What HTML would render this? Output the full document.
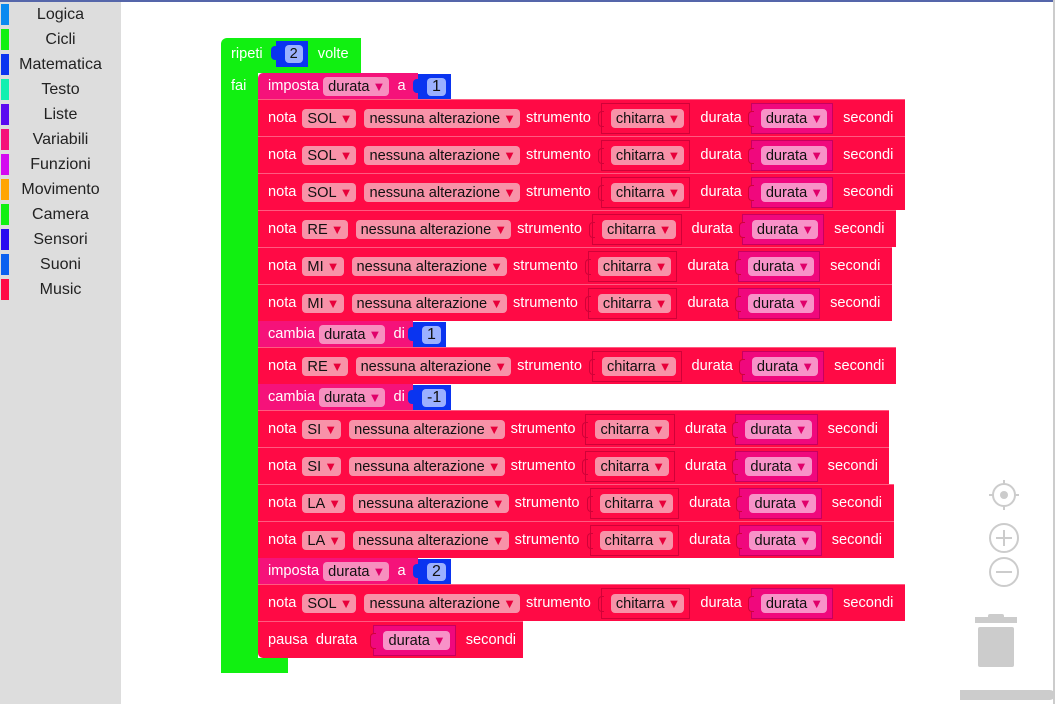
<!DOCTYPE html>
<html><head><meta charset="utf-8"><style>
*{box-sizing:border-box;margin:0;padding:0}
body{width:1055px;height:704px;overflow:hidden;background:#fff;font-family:"Liberation Sans",Arial,sans-serif;position:relative}
#top{position:absolute;left:0;top:0;width:1055px;height:2px;background:#5566aa}
#side{position:absolute;left:0;top:2px;width:121px;height:702px;background:#ddd}
.cat{position:absolute;left:0;width:121px;height:25px;font-size:16px;color:#222;text-align:center;line-height:25px}
.cat i{position:absolute;left:1px;top:2px;width:8px;height:21px}
.blk{position:absolute;display:flex;align-items:center;color:#fff;font-size:14.6px;white-space:nowrap;padding-left:10px}
.red{background:#ff0a45;border-top:1px solid #ff5a80}
.mag{background:#f5127a}
.pill{background:#f892a8;color:#111;border-radius:4px;height:19px;line-height:19px;padding:0 4px 0 5px;display:inline-block}
.mag .pill{background:#f78fbf}
.pill b{color:#e8003a;font-size:13px;font-weight:normal;margin-left:3px}
.mag .pill b{color:#e0006a}
.box{display:inline-flex;align-items:center;height:31px;border:1px solid #d00238;padding:0 5px 0 9px;margin-right:10px;position:relative}
.box.v{background:#f0087d;border-color:#c8005e}
.box.v .pill{background:#f892c8}
.box.v .pill b{color:#e0006a}
.box:before{content:"";position:absolute;left:-4px;top:7px;width:5px;height:14px;border:1px solid #d00238;border-right:none;border-radius:4px 0 0 4px;background:inherit}
.num{display:inline-flex;align-items:center;background:#0a34f0;height:25px;padding:0 5px 0 9px;position:relative;margin-left:8px}
.num:before{content:"";position:absolute;left:-5px;top:5px;width:6px;height:14px;background:#0a34f0;border-radius:4px 0 0 4px}
.num span{background:#9bb0ff;color:#111;border-radius:4px;height:18px;line-height:18px;padding:0 5px}
.sp{margin-right:6px}
.n{margin-right:8px}
.a{margin-right:6px}
.s{margin-right:10px}
.d{margin-right:9px}
</style></head><body>
<div id="top"></div>
<div id="side">
<div class="cat" style="top:0"><i style="background:#0a8af0"></i>Logica</div>
<div class="cat" style="top:25px"><i style="background:#11f011"></i>Cicli</div>
<div class="cat" style="top:50px"><i style="background:#0a34f0"></i>Matematica</div>
<div class="cat" style="top:75px"><i style="background:#11f0b0"></i>Testo</div>
<div class="cat" style="top:100px"><i style="background:#5a0af0"></i>Liste</div>
<div class="cat" style="top:125px"><i style="background:#f5127a"></i>Variabili</div>
<div class="cat" style="top:150px"><i style="background:#d40af0"></i>Funzioni</div>
<div class="cat" style="top:175px"><i style="background:#ffa500"></i>Movimento</div>
<div class="cat" style="top:200px"><i style="background:#11f011"></i>Camera</div>
<div class="cat" style="top:225px"><i style="background:#2a0af0"></i>Sensori</div>
<div class="cat" style="top:250px"><i style="background:#0a60f0"></i>Suoni</div>
<div class="cat" style="top:275px"><i style="background:#ff0a45"></i>Music</div>
</div>

<div style="position:absolute;left:221px;top:38px;width:140px;height:35px;background:#11f011;border-radius:6px 0 0 0"></div>
<div style="position:absolute;left:221px;top:70px;width:37px;height:603px;background:#11f011;border-radius:0 0 0 6px"></div>
<div style="position:absolute;left:221px;top:658px;width:67px;height:15px;background:#11f011"></div>
<div class="blk" style="left:221px;top:40px;height:28px">ripeti<div class="num" style="margin-left:13px;height:26px"><span>2</span></div><span style="margin-left:10px">volte</span></div>
<div class="blk" style="left:221px;top:73px;height:25px">fai</div>

<div class="blk mag" style="left:258px;top:73px;height:26px;width:160px;border-radius:5px 0 0 0">imposta&nbsp;<span class="pill">durata<b>▼</b></span>&nbsp;&nbsp;a</div>
<div class="num" style="position:absolute;left:418px;top:74px;margin:0"><span>1</span></div>

<div class="blk red" style="left:258px;top:99px;height:37px;width:647px"><span class="sp">nota</span><span class="pill n">SOL<b>▼</b></span><span class="pill a">nessuna alterazione<b>▼</b></span><span class="s">strumento</span><span class="box"><span class="pill">chitarra<b>▼</b></span></span><span class="d">durata</span><span class="box v"><span class="pill">durata<b>▼</b></span></span>secondi</div>
<div class="blk red" style="left:258px;top:136px;height:37px;width:647px"><span class="sp">nota</span><span class="pill n">SOL<b>▼</b></span><span class="pill a">nessuna alterazione<b>▼</b></span><span class="s">strumento</span><span class="box"><span class="pill">chitarra<b>▼</b></span></span><span class="d">durata</span><span class="box v"><span class="pill">durata<b>▼</b></span></span>secondi</div>
<div class="blk red" style="left:258px;top:173px;height:37px;width:647px"><span class="sp">nota</span><span class="pill n">SOL<b>▼</b></span><span class="pill a">nessuna alterazione<b>▼</b></span><span class="s">strumento</span><span class="box"><span class="pill">chitarra<b>▼</b></span></span><span class="d">durata</span><span class="box v"><span class="pill">durata<b>▼</b></span></span>secondi</div>
<div class="blk red" style="left:258px;top:210px;height:37px;width:638px"><span class="sp">nota</span><span class="pill n">RE<b>▼</b></span><span class="pill a">nessuna alterazione<b>▼</b></span><span class="s">strumento</span><span class="box"><span class="pill">chitarra<b>▼</b></span></span><span class="d">durata</span><span class="box v"><span class="pill">durata<b>▼</b></span></span>secondi</div>
<div class="blk red" style="left:258px;top:247px;height:37px;width:634px"><span class="sp">nota</span><span class="pill n">MI<b>▼</b></span><span class="pill a">nessuna alterazione<b>▼</b></span><span class="s">strumento</span><span class="box"><span class="pill">chitarra<b>▼</b></span></span><span class="d">durata</span><span class="box v"><span class="pill">durata<b>▼</b></span></span>secondi</div>
<div class="blk red" style="left:258px;top:284px;height:37px;width:634px"><span class="sp">nota</span><span class="pill n">MI<b>▼</b></span><span class="pill a">nessuna alterazione<b>▼</b></span><span class="s">strumento</span><span class="box"><span class="pill">chitarra<b>▼</b></span></span><span class="d">durata</span><span class="box v"><span class="pill">durata<b>▼</b></span></span>secondi</div>

<div class="blk mag" style="left:258px;top:321px;height:26px;width:155px">cambia&nbsp;<span class="pill">durata<b>▼</b></span>&nbsp;&nbsp;di</div>
<div class="num" style="position:absolute;left:413px;top:322px;margin:0"><span>1</span></div>

<div class="blk red" style="left:258px;top:347px;height:37px;width:638px"><span class="sp">nota</span><span class="pill n">RE<b>▼</b></span><span class="pill a">nessuna alterazione<b>▼</b></span><span class="s">strumento</span><span class="box"><span class="pill">chitarra<b>▼</b></span></span><span class="d">durata</span><span class="box v"><span class="pill">durata<b>▼</b></span></span>secondi</div>

<div class="blk mag" style="left:258px;top:384px;height:26px;width:155px">cambia&nbsp;<span class="pill">durata<b>▼</b></span>&nbsp;&nbsp;di</div>
<div class="num" style="position:absolute;left:413px;top:385px;margin:0"><span>-1</span></div>

<div class="blk red" style="left:258px;top:410px;height:37px;width:631px"><span class="sp">nota</span><span class="pill n">SI<b>▼</b></span><span class="pill a">nessuna alterazione<b>▼</b></span><span class="s">strumento</span><span class="box"><span class="pill">chitarra<b>▼</b></span></span><span class="d">durata</span><span class="box v"><span class="pill">durata<b>▼</b></span></span>secondi</div>
<div class="blk red" style="left:258px;top:447px;height:37px;width:631px"><span class="sp">nota</span><span class="pill n">SI<b>▼</b></span><span class="pill a">nessuna alterazione<b>▼</b></span><span class="s">strumento</span><span class="box"><span class="pill">chitarra<b>▼</b></span></span><span class="d">durata</span><span class="box v"><span class="pill">durata<b>▼</b></span></span>secondi</div>
<div class="blk red" style="left:258px;top:484px;height:37px;width:636px"><span class="sp">nota</span><span class="pill n">LA<b>▼</b></span><span class="pill a">nessuna alterazione<b>▼</b></span><span class="s">strumento</span><span class="box"><span class="pill">chitarra<b>▼</b></span></span><span class="d">durata</span><span class="box v"><span class="pill">durata<b>▼</b></span></span>secondi</div>
<div class="blk red" style="left:258px;top:521px;height:37px;width:636px"><span class="sp">nota</span><span class="pill n">LA<b>▼</b></span><span class="pill a">nessuna alterazione<b>▼</b></span><span class="s">strumento</span><span class="box"><span class="pill">chitarra<b>▼</b></span></span><span class="d">durata</span><span class="box v"><span class="pill">durata<b>▼</b></span></span>secondi</div>

<div class="blk mag" style="left:258px;top:558px;height:26px;width:160px">imposta&nbsp;<span class="pill">durata<b>▼</b></span>&nbsp;&nbsp;a</div>
<div class="num" style="position:absolute;left:418px;top:559px;margin:0"><span>2</span></div>

<div class="blk red" style="left:258px;top:584px;height:37px;width:647px"><span class="sp">nota</span><span class="pill n">SOL<b>▼</b></span><span class="pill a">nessuna alterazione<b>▼</b></span><span class="s">strumento</span><span class="box"><span class="pill">chitarra<b>▼</b></span></span><span class="d">durata</span><span class="box v"><span class="pill">durata<b>▼</b></span></span>secondi</div>
<div class="blk red" style="left:258px;top:621px;height:37px;width:265px;border-radius:0 0 0 5px">pausa&nbsp;&nbsp;durata&nbsp;&nbsp;&nbsp;&nbsp;<span class="box v"><span class="pill">durata<b>▼</b></span></span>secondi</div>

<svg style="position:absolute;left:960px;top:470px" width="95" height="234">
<g fill="none" stroke="#ccc" stroke-width="2">
<circle cx="44" cy="25" r="11"/><line x1="44" y1="10" x2="44" y2="14"/><line x1="44" y1="36" x2="44" y2="40"/><line x1="29" y1="25" x2="33" y2="25"/><line x1="55" y1="25" x2="59" y2="25"/>
<circle cx="44" cy="68" r="14"/><line x1="36" y1="68" x2="52" y2="68"/><line x1="44" y1="60" x2="44" y2="76"/>
<circle cx="44" cy="102" r="14"/><line x1="36" y1="102" x2="52" y2="102"/>
</g>
<circle cx="44" cy="25" r="4" fill="#ccc"/>
<rect x="15" y="147" width="42" height="6" fill="#ccc"/>
<rect x="28" y="144" width="16" height="5" rx="2" fill="#ccc"/>
<rect x="18" y="157" width="36" height="40" rx="2" fill="#ccc"/>
<rect x="-7" y="220" width="102" height="10" rx="5" fill="#ccc"/>
</svg>
<div style="position:absolute;left:1053px;top:0;width:2px;height:704px;background:#ccc"></div>
</body></html>
